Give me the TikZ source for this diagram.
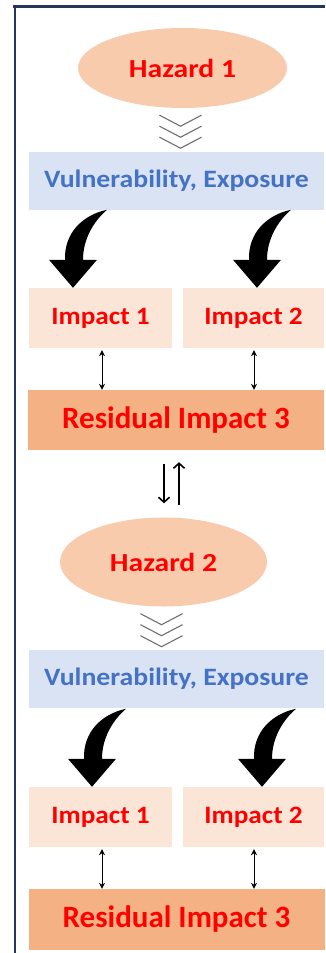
\documentclass[tikz,border=0pt]{standalone}
\usepackage{fontspec}
\setmainfont{Carlito}
\newfontfamily\hazfont{Carlito}[FakeStretch=1.14]
\newfontfamily\vulfont{Carlito}[FakeStretch=1.11]
\newfontfamily\impfont{Carlito}[FakeStretch=1.09]
\usetikzlibrary{shapes.geometric,arrows.meta,calc}
\definecolor{hazfill}{HTML}{F8CBAD}
\definecolor{vulfill}{HTML}{DAE3F3}
\definecolor{impfill}{HTML}{FBE5D6}
\definecolor{resfill}{HTML}{F4B183}
\definecolor{vultext}{HTML}{4472C4}
\definecolor{frame}{HTML}{26355A}
\definecolor{chevgray}{HTML}{707070}
\tikzset{
  hazard/.style={ellipse, fill=hazfill, inner sep=0pt, text=red, font=\hazfont\fontsize{26}{30}\selectfont\bfseries},
  vulbox/.style={rectangle, fill=vulfill, inner sep=0pt, minimum width=295pt, minimum height=58pt, text=vultext, font=\vulfont\fontsize{25}{29}\selectfont\bfseries},
  impbox/.style={rectangle, fill=impfill, inner sep=0pt, minimum height=60pt, text=red, font=\impfont\fontsize{25}{29}\selectfont\bfseries},
  resbox/.style={rectangle, fill=resfill, inner sep=0pt, minimum width=296pt, minimum height=60pt, text=red, font=\fontsize{31}{35}\selectfont\bfseries},
  dbl/.style={line width=1pt, {Stealth[length=6pt,width=6pt]}-{Stealth[length=6pt,width=6pt]}},
  barb/.style={line width=1.6pt, -{Straight Barb[length=5pt,width=11pt]}},
  chev/.pic={
    \foreach \i in {0,1,2}{
      \draw[chevgray, line width=1.1pt] (-21,{11*\i}) -- (0,{11*\i+11}) -- (21,{11*\i});
    }
  },
  bigarrow/.pic={
    \fill[black] (0,0) -- (-24,-28) -- (-8,-28)
      .. controls (-9,-55) and (10,-73) .. (34,-78)
      .. controls (20,-66) and (10,-48) .. (10,-28)
      -- (24,-28) -- cycle;
  }
}
\begin{document}
\begin{tikzpicture}[x=1pt,y=-1pt]
\useasboundingbox (0,0) rectangle (325,953);
\fill[white] (0,0) rectangle (325,953);
% frame
\draw[frame, line width=2.5pt] (13,6.5) -- (325,6.5);
\draw[frame, line width=2pt] (15,6) -- (15,953);

% upper block
\node[hazard, minimum width=209pt, minimum height=80pt] (haz1) at (182.5,68) {Hazard 1};
\node[vulbox] (vul1) at (176.5,181) {Vulnerability, Exposure};
\node[impbox, minimum width=143pt] (imp11) at (100.5,318) {Impact 1};
\node[impbox, minimum width=141pt] (imp12) at (253.5,318) {Impact 2};
\node[resbox] (res1) at (176,420) {Residual Impact 3};

% lower block
\node[hazard, minimum width=207pt, minimum height=89pt] (haz2) at (163.5,562) {Hazard 2};
\node[vulbox] (vul2) at (176.5,679) {Vulnerability, Exposure};
\node[impbox, minimum width=143pt] (imp21) at (100.5,817) {Impact 1};
\node[impbox, minimum width=141pt] (imp22) at (253.5,817) {Impact 2};
\node[resbox, minimum height=61pt] (res2) at (176.5,919.5) {Residual Impact 3};

% chevrons
\pic at ($(haz1.south)+(-2,7)$) {chev};
\pic at ($(haz2.south)+(-2,7)$) {chev};

% curved arrows
\pic at ($(imp11.north)+(-27.5,0)$) {bigarrow};
\pic at ($(imp12.north)+(3.5,0)$) {bigarrow};
\pic at ($(imp21.north)+(-8.5,0)$) {bigarrow};
\pic at ($(imp22.north)+(8.5,0)$) {bigarrow};

% double arrows
\draw[dbl] ($(imp11.south)+(1.5,2)$) -- ($(imp11.south |- res1.north)+(1.5,0)$);
\draw[dbl] ($(imp12.south)+(0.5,2)$) -- ($(imp12.south |- res1.north)+(0.5,0)$);
\draw[dbl] ($(imp21.south)+(1.5,2)$) -- ($(imp21.south |- res2.north)+(1.5,0)$);
\draw[dbl] ($(imp22.south)+(0.5,2)$) -- ($(imp22.south |- res2.north)+(0.5,0)$);

% down/up arrows between blocks
\draw[barb] ($(res1.south)+(-12,14)$) -- ($(haz2.north)+(0.5,-14)$);
\draw[barb] ($(haz2.north)+(15.5,-12)$) -- ($(res1.south)+(3,12)$);
\end{tikzpicture}
\end{document}
